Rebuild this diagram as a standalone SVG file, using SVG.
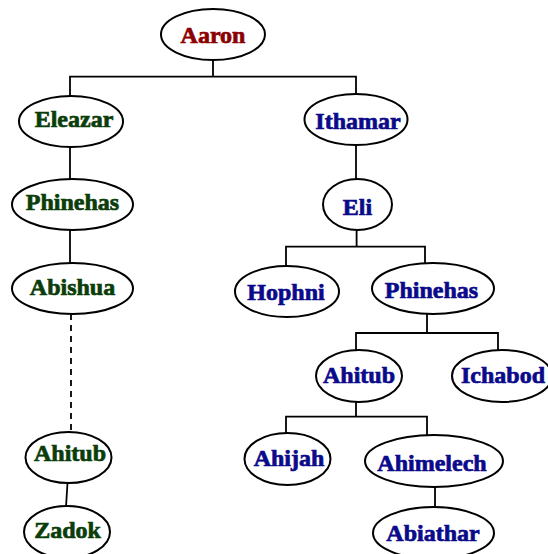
<svg xmlns="http://www.w3.org/2000/svg" width="548" height="554" viewBox="0 0 548 554">
<style>
.n ellipse{fill:#fff;stroke:#000;stroke-width:2}
.n text{font-family:"Liberation Serif","Times New Roman",serif;font-weight:bold;font-size:24px;text-anchor:middle;stroke-width:0.7}
.r text{fill:#8b0000;stroke:#8b0000}
.g text{fill:#0b3d0b;stroke:#0b3d0b}
.b text{fill:#0a0a8a;stroke:#0a0a8a}
#edges path{fill:none;stroke:#000;stroke-width:1.8}
#edges .d{stroke-dasharray:6,5}
</style>
<rect width="548" height="554" fill="#fff"/>
<g id="edges">
<path d="M213 60V76.7M70 96V76.7H356V94"/>
<path d="M70 147V179"/>
<path d="M70 230V263"/>
<path class="d" d="M71 314V432"/>
<path d="M67.5 483L66 507"/>
<path d="M356 145V179"/>
<path d="M356.6 230V246.7M286 266V246.7H425V263"/>
<path d="M427 314V333M356 350V333H498V350"/>
<path d="M356 402V416.7M286 433V416.7H427V435"/>
<path d="M435 487V507"/>
</g>
<g id="aaron" class="n r"><ellipse cx="213" cy="34.5" rx="52" ry="25.5"/><text x="213" y="43">Aaron</text></g>
<g id="eleazar" class="n g"><ellipse cx="71" cy="121.5" rx="52" ry="25.5"/><text x="74" y="127">Eleazar</text></g>
<g id="phinehas-l" class="n g"><ellipse cx="72.5" cy="204.5" rx="60.5" ry="25.5"/><text x="72.5" y="210">Phinehas</text></g>
<g id="abishua" class="n g"><ellipse cx="72.5" cy="288.5" rx="60.5" ry="25.5"/><text x="72.5" y="295">Abishua</text></g>
<g id="ahitub-l" class="n g"><ellipse cx="68.5" cy="457.5" rx="43" ry="25.5"/><text x="70" y="461">Ahitub</text></g>
<g id="zadok" class="n g"><ellipse cx="67" cy="532" rx="43" ry="26"/><text x="67.5" y="538">Zadok</text></g>
<g id="ithamar" class="n b"><ellipse cx="356" cy="119.5" rx="51.5" ry="25.5"/><text x="358" y="129">Ithamar</text></g>
<g id="eli" class="n b"><ellipse cx="357.5" cy="204.5" rx="34.5" ry="25.5"/><text x="357.5" y="215">Eli</text></g>
<g id="hophni" class="n b"><ellipse cx="287" cy="291.5" rx="52" ry="25.5"/><text x="286" y="300">Hophni</text></g>
<g id="phinehas-r" class="n b"><ellipse cx="433" cy="288.5" rx="61" ry="25.5"/><text x="431.5" y="298">Phinehas</text></g>
<g id="ahitub-r" class="n b"><ellipse cx="359" cy="376" rx="43" ry="26"/><text x="359" y="383">Ahitub</text></g>
<g id="ichabod" class="n b"><ellipse cx="502" cy="376" rx="50" ry="26"/><text x="503" y="383">Ichabod</text></g>
<g id="ahijah" class="n b"><ellipse cx="287.5" cy="459" rx="43" ry="26"/><text x="289" y="466">Ahijah</text></g>
<g id="ahimelech" class="n b"><ellipse cx="434" cy="461" rx="69" ry="26"/><text x="432" y="471">Ahimelech</text></g>
<g id="abiathar" class="n b"><ellipse cx="433.5" cy="533" rx="60.5" ry="26"/><text x="433" y="541">Abiathar</text></g>
</svg>
